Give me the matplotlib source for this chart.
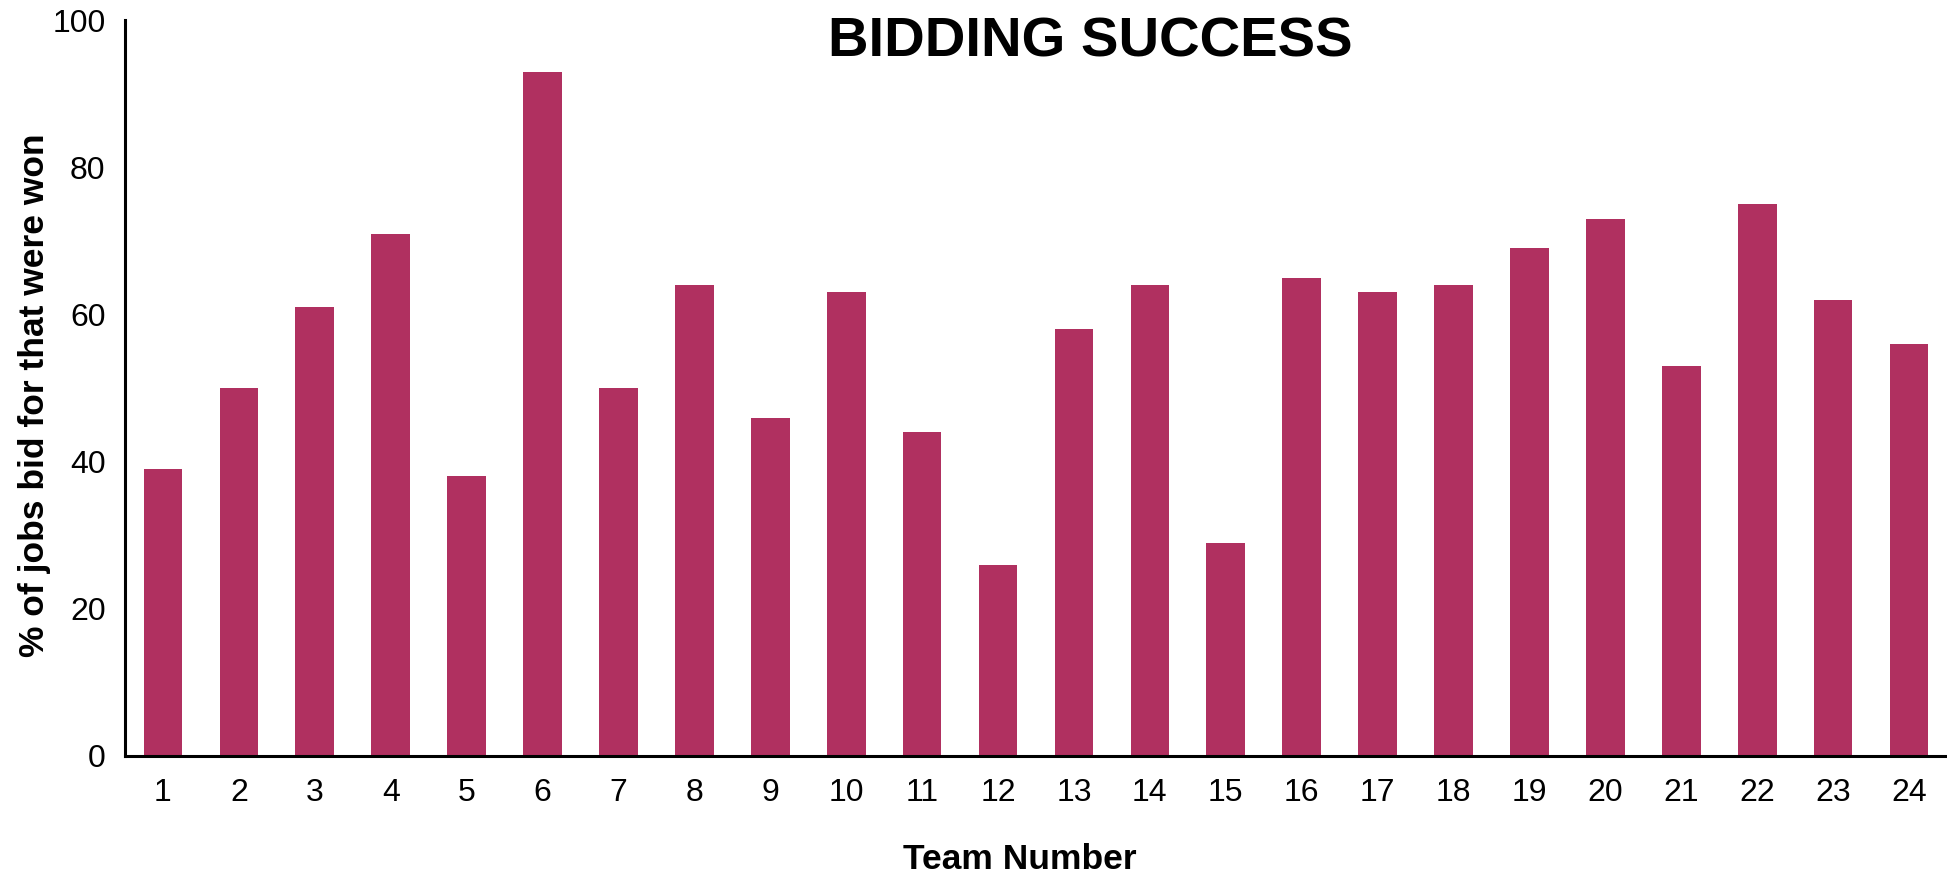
import matplotlib
matplotlib.use("Agg")
import matplotlib.pyplot as plt

plt.rcParams['font.family'] = ['Liberation Sans', 'DejaVu Sans']

teams = list(range(1, 25))
win_pct = [39, 50, 61, 71, 38, 93, 50, 64, 46, 63, 44, 26,
           58, 64, 29, 65, 63, 64, 69, 73, 53, 75, 62, 56]
yticks = [0, 20, 40, 60, 80, 100]

fig = plt.figure(figsize=(19.47, 8.81), dpi=100)
ax = fig.add_axes([0.0642, 0.1419, 0.9358, 0.8351])

ax.bar(teams, win_pct, width=0.51, color='#B03060')
ax.set_xlim(0.5, 24.5)
ax.set_ylim(0, 100)
ax.set_xticks(teams)
ax.set_xticklabels([str(t) for t in teams])
ax.set_yticks(yticks)
ax.tick_params(axis='both', length=0, labelsize=23)
ax.tick_params(axis='y', pad=14)
ax.tick_params(axis='x', pad=16)

for s in ['top', 'right']:
    ax.spines[s].set_visible(False)
for s in ['left', 'bottom']:
    ax.spines[s].set_linewidth(2.2)

ax.set_xlabel('Team Number', fontsize=25.5, fontweight='bold', va='center')
ax.xaxis.set_label_coords(0.491, -0.1413)
ax.set_ylabel('% of jobs bid for that were won', fontsize=25.5, fontweight='bold', va='center')
ax.yaxis.set_label_coords(-0.0495, 0.49)

fig.text(0.56, 0.952, 'BIDDING SUCCESS', fontsize=40.5, fontweight='bold',
         ha='center', va='center')

fig.savefig('out.png', dpi=100)
